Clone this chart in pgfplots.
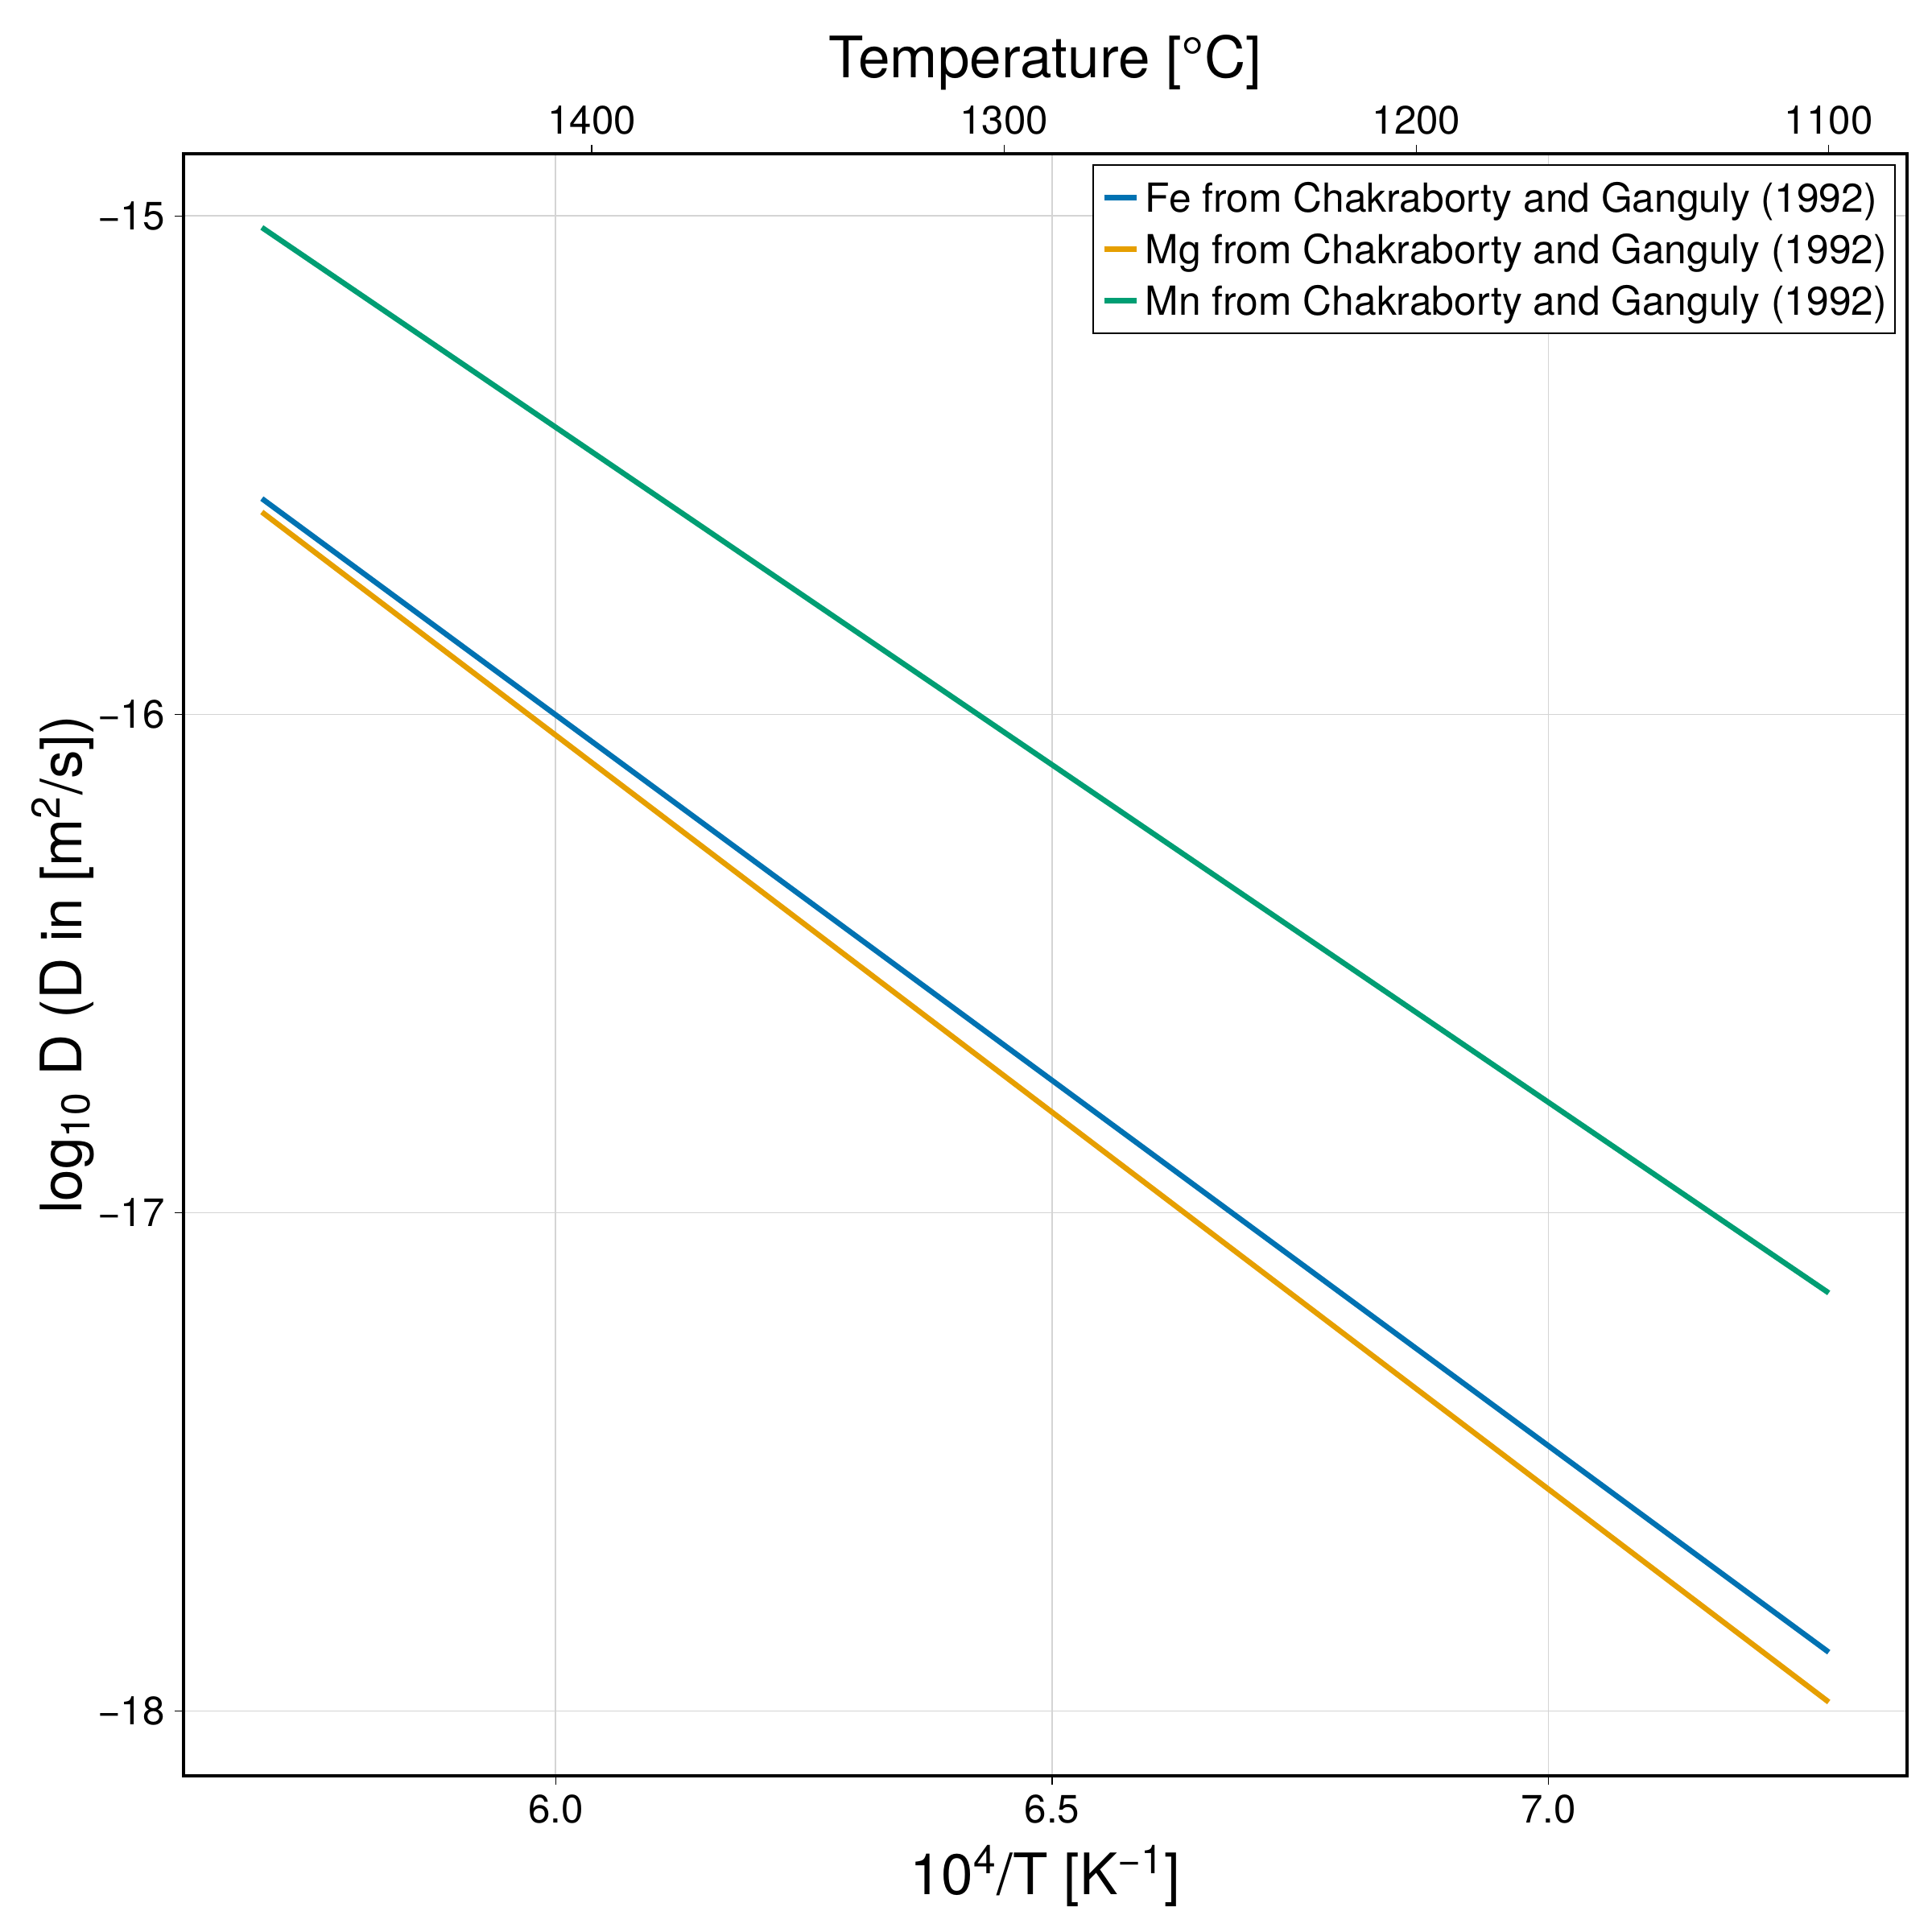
\documentclass[border=0pt]{standalone}
\usepackage{pgfplots}
\pgfplotsset{compat=1.18}
\usepackage{fontspec}
\setmainfont{TeX Gyre Heros}
\definecolor{cblue}{RGB}{0,114,178}
\definecolor{corange}{RGB}{230,159,0}
\definecolor{cgreen}{RGB}{0,158,115}
\begin{document}
\begin{tikzpicture}
\path[use as bounding box] (0,0) rectangle (24cm,24cm);
\begin{axis}[
  at={(2.28cm,1.94cm)}, anchor=south west,
  scale only axis, width=21.41cm, height=20.15cm,
  xmin=5.6251, xmax=7.3614, ymin=-18.130, ymax=-14.875,
  xtick={6.0,6.5,7.0}, xticklabels={6.0,6.5,7.0},
  ytick={-18,-17,-16,-15}, yticklabels={−18,−17,−16,−15},
  xtick pos=bottom, ytick pos=left,
  tick align=outside, major tick length=0.11cm,
  every tick/.style={black, line width=0.4pt},
  grid=major, major grid style={black!17, line width=0.5pt},
  axis line style={line width=0.9pt},
  tick label style={font=\fontsize{14}{16}\selectfont},
  label style={font=\fontsize{20.2}{24}\selectfont, inner sep=0pt},
  xlabel={10\textsuperscript{4}/T [K\textsuperscript{−1}]},
  xlabel style={at={(axis description cs:0.5,-0.0734)}, anchor=base},
  ylabel={log\textsubscript{10} D (D in [m\textsuperscript{2}/s])},
  ylabel style={at={(axis description cs:-0.0701,0.5)}, anchor=center},
  legend style={at={(rel axis cs:0.9935,0.99355)}, anchor=north east,
    draw=black, line width=0.6pt, inner xsep=0.1cm, inner ysep=0.13cm,
    font=\fontsize{14.15}{16}\selectfont, row sep=0.09cm,
    nodes={inner xsep=0pt, inner ysep=0pt, text height=0.45cm, text depth=0.1cm},
    /tikz/every odd column/.append style={column sep=0.08cm}},
  legend cell align=left,
  legend image code/.code={\draw[#1, line width=1.9pt] (0cm,0cm) -- (0.4cm,0cm);},
]
\addplot[cblue, line width=1.9pt] coordinates {(5.7040,-15.567) (7.2825,-17.882)};
\addlegendentry{Fe from Chakraborty and Ganguly (1992)}
\addplot[corange, line width=1.9pt] coordinates {(5.7040,-15.594) (7.2825,-17.982)};
\addlegendentry{Mg from Chakraborty and Ganguly (1992)}
\addplot[cgreen, line width=1.9pt] coordinates {(5.7040,-15.023) (7.2825,-17.161)};
\addlegendentry{Mn from Chakraborty and Ganguly (1992)}
\end{axis}
\begin{axis}[
  at={(2.28cm,1.94cm)}, anchor=south west,
  scale only axis, width=21.41cm, height=20.15cm,
  xmin=1081, xmax=1499, x dir=reverse, ymin=0, ymax=1,
  axis x line*=top, axis y line=none,
  xtick={1100,1200,1300,1400}, xticklabels={1100,1200,1300,1400},
  tick align=outside, major tick length=0.11cm,
  every tick/.style={black, line width=0.4pt},
  axis line style={-, line width=0.9pt},
  tick label style={font=\fontsize{14}{16}\selectfont},
  label style={font=\fontsize{20.2}{24}\selectfont, inner sep=0pt},
  xlabel={Temperature [°C]},
  xlabel style={at={(axis description cs:0.5,1.0471)}, anchor=base},
]
\end{axis}
\end{tikzpicture}
\end{document}
